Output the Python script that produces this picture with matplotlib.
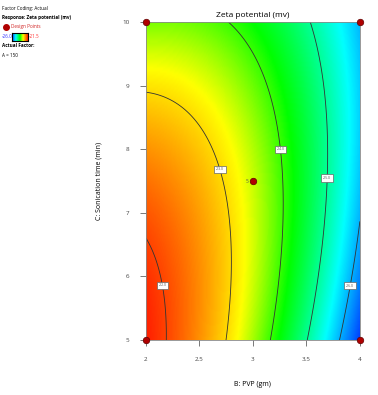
import numpy as np
import matplotlib
matplotlib.use('Agg')
from matplotlib import pyplot as plt
from matplotlib.colors import LinearSegmentedColormap
from matplotlib.lines import Line2D

# factor ranges (actual units)
pvp_range = [2.0, 4.0]
time_range = [5.0, 10.0]

# quadratic model in coded units: b0, B, C, BC, B^2, C^2
coef = [-23.45, -1.79, -0.32, 0.68, -0.64, -0.45]

# contour levels shown and where their labels sit
levels = [-26, -25, -24, -23, -22]
label_pos = [(3.93, 5.85), (3.70, 7.55), (3.27, 8.0), (2.72, 7.7), (2.12, 5.85)]

# design points
pts_pvp = [2, 2, 4, 4, 3]
pts_time = [5, 10, 5, 10, 7.5]

xticks = [2, 2.5, 3, 3.5, 4]
yticks = [5, 6, 7, 8, 9, 10]

plt.rcParams['font.family'] = ['Open Sans', 'DejaVu Sans']

x = np.linspace(pvp_range[0], pvp_range[1], 200)
y = np.linspace(time_range[0], time_range[1], 200)
X, Y = np.meshgrid(x, y)
Bc = (X - 3.0) / 1.0
Cc = (Y - 7.5) / 2.5
Z = coef[0] + coef[1]*Bc + coef[2]*Cc + coef[3]*Bc*Cc + coef[4]*Bc**2 + coef[5]*Cc**2

cmap = LinearSegmentedColormap.from_list('de', [(0.0, '#0040ff'), (0.23, '#00ffff'),
                                                (0.50, '#00ff00'), (0.70, '#ffff00'),
                                                (1.0, '#ff2000')])

fig = plt.figure(figsize=(3.78, 3.95), dpi=100)
ax = fig.add_axes([0.386, 0.139, 0.566, 0.805])
ax.imshow(Z, origin='lower', extent=[2, 4, 5, 10], aspect='auto', cmap=cmap,
          vmin=Z.min(), vmax=Z.max(), interpolation='bilinear')
cs = ax.contour(X, Y, Z, levels=levels, colors='#333333', linewidths=0.6,
                linestyles='solid')
lbl = ax.clabel(cs, fmt='%.1f', fontsize=2.5, inline=False, colors='#555555',
                manual=label_pos)
for t in lbl:
    t.set_rotation(0)
    t.set_bbox(dict(boxstyle='square,pad=0.5', fc='white', ec='#666666', lw=0.5))

ax.scatter(pts_pvp, pts_time, s=22, color='#b00000', edgecolors='#600000',
           linewidths=0.5, zorder=5, clip_on=False)
ax.text(2.96, 7.5, '5', fontsize=3.5, color='#555555', ha='right', va='center')

ax.set_xlim(2, 4)
ax.set_ylim(5, 10)
ax.set_xticks(xticks)
ax.set_xticklabels(['2', '2.5', '3', '3.5', '4'])
ax.set_yticks(yticks)
ax.tick_params(labelsize=4.5, colors='#444444', length=4, width=0.5, pad=8)
for s in ax.spines.values():
    s.set_color('#888888')
    s.set_linewidth(0.6)
ax.set_title('Zeta potential (mv)', fontsize=6, pad=4)
ax.set_xlabel('B: PVP (gm)', fontsize=5, labelpad=14)
ax.set_ylabel('C: Sonication time (min)', fontsize=5, labelpad=14)

# legend block in the upper left
fig.text(0.005, 0.985, 'Factor Coding: Actual', fontsize=3.3, va='top')
fig.text(0.005, 0.962, 'Response: Zeta potential (mv)', fontsize=3.3, va='top', weight='bold')
fig.text(0.028, 0.938, 'Design Points', fontsize=3.3, va='top', color='#d02020')
fig.add_artist(Line2D([0.016], [0.931], marker='o', markersize=4, color='#b00000',
                      transform=fig.transFigure))
fig.text(0.005, 0.915, '-26.0', fontsize=3.3, va='top', color='#3030ff')
fig.text(0.075, 0.915, '-21.5', fontsize=3.3, va='top', color='#ff3030')
cax = fig.add_axes([0.033, 0.897, 0.04, 0.02])
cax.imshow(np.linspace(0, 1, 50).reshape(1, -1), cmap=cmap, aspect='auto')
cax.set_xticks([])
cax.set_yticks([])
fig.text(0.005, 0.890, 'Actual Factor:', fontsize=3.3, va='top', weight='bold')
fig.text(0.005, 0.866, 'A = 150', fontsize=3.3, va='top')

plt.savefig('out.png', dpi=100)
